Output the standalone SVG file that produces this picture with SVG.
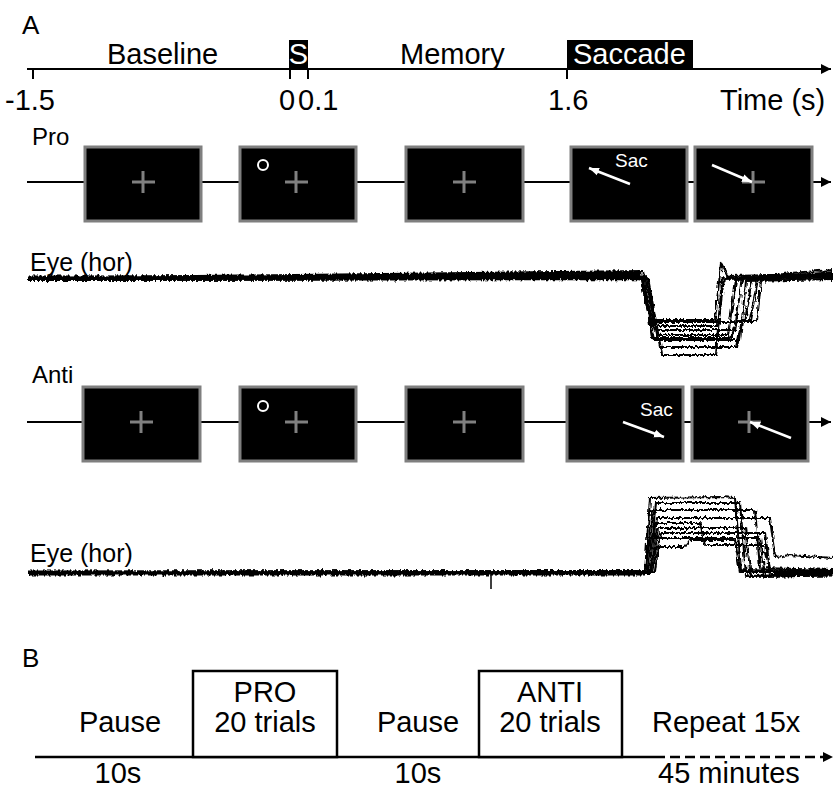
<svg xmlns="http://www.w3.org/2000/svg" width="833" height="790" viewBox="0 0 833 790">
<style>
text{font-family:"Liberation Sans",Arial,sans-serif;fill:#000}
.big{font-size:29px}
.mid{font-size:24px}
.lbl{font-size:26px}
.sac{font-size:19px;fill:#fff}
.wt{fill:#fff}
.ax{stroke:#000;stroke-width:2;fill:none}
.scr{fill:#000;stroke:#7f7f7f;stroke-width:3}
.fix{stroke:#808080;stroke-width:3;fill:none}
.tr{fill:none;stroke:#000;stroke-width:2.1;stroke-linejoin:round}
.base{fill:none;stroke:#000;stroke-width:5}
.box{fill:#fff;stroke:#000;stroke-width:2.5}
</style>
<defs>
<marker id="ah" viewBox="0 0 10 10" refX="10" refY="5" markerWidth="10" markerHeight="10" markerUnits="userSpaceOnUse" orient="auto">
<path d="M0,0 L10,5 L0,10 z" fill="#000"/>
</marker>
<marker id="wh" viewBox="0 0 10 10" refX="10" refY="5" markerWidth="10" markerHeight="10" markerUnits="userSpaceOnUse" orient="auto">
<path d="M0,1 L10,5 L0,9 z" fill="#fff"/>
</marker>
<filter id="noise" filterUnits="userSpaceOnUse" x="0" y="230" width="833" height="380">
<feTurbulence type="fractalNoise" baseFrequency="0.45 0.15" numOctaves="2" seed="7" result="t"/>
<feDisplacementMap in="SourceGraphic" in2="t" scale="5" xChannelSelector="R" yChannelSelector="G"/>
</filter>
</defs>

<g id="panelA-label"><text class="lbl" x="22" y="34">A</text></g>

<g id="timeline">
<line class="ax" x1="27" y1="69" x2="831" y2="69" marker-end="url(#ah)"/>
<line class="ax" x1="33" y1="69" x2="33" y2="79"/>
<line class="ax" x1="290" y1="69" x2="290" y2="79"/>
<line class="ax" x1="308" y1="69" x2="308" y2="79"/>
<line class="ax" x1="567" y1="69" x2="567" y2="79"/>
<text class="big" x="107" y="64">Baseline</text>
<rect x="289" y="40" width="19" height="29" fill="#000"/>
<text class="big wt" x="298.5" y="64" text-anchor="middle">S</text>
<text class="big" x="400" y="64">Memory</text>
<rect x="567" y="40" width="126" height="29" fill="#000"/>
<text class="big wt" x="573" y="64">Saccade</text>
<text class="big" x="5" y="110">-1.5</text>
<text class="big" x="279" y="110">0</text>
<text class="big" x="298" y="110">0.1</text>
<text class="big" x="548" y="110">1.6</text>
<text class="big" x="720" y="110">Time (s)</text>
</g>

<g id="connectors">
<line class="ax" x1="27" y1="182" x2="831" y2="182" marker-end="url(#ah)"/>
<line class="ax" x1="27" y1="422" x2="831" y2="422" marker-end="url(#ah)"/>
<line x1="35" y1="757" x2="655" y2="757" stroke="#000" stroke-width="2.5"/>
<line x1="655" y1="757" x2="823" y2="757" stroke="#000" stroke-width="2.5" stroke-dasharray="10 5"/>
<path d="M823,752 L833,757 L823,762 z" fill="#000"/>
</g>

<g id="pro-row">
<text class="mid" x="32" y="145">Pro</text>
<g id="pro-s1"><rect class="scr" x="85" y="147" width="116" height="74"/><path class="fix" d="M132,182 H155 M143,171 V193"/></g>
<g id="pro-s2"><rect class="scr" x="240" y="147" width="116" height="74"/><path class="fix" d="M285,182 H308 M296,171 V193"/><circle cx="263" cy="165" r="5" fill="none" stroke="#fff" stroke-width="2"/></g>
<g id="pro-s3"><rect class="scr" x="406" y="147" width="117" height="74"/><path class="fix" d="M453,182 H476 M464,171 V193"/></g>
<g id="pro-s4"><rect class="scr" x="571" y="147" width="116" height="74"/><text class="sac" x="615" y="167">Sac</text><line x1="630" y1="184" x2="589" y2="168" stroke="#fff" stroke-width="2.5" marker-end="url(#wh)"/></g>
<g id="pro-s5"><rect class="scr" x="695" y="147" width="117" height="74"/><path class="fix" d="M742,182 H765 M753,171 V193"/><line x1="712" y1="165" x2="752" y2="182" stroke="#fff" stroke-width="2.5" marker-end="url(#wh)"/></g>
</g>

<g id="pro-eye">
<text class="lbl" x="30" y="271" style="font-size:25px">Eye (hor)</text>
<g filter="url(#noise)">
<path class="base" d="M28,278 L300,278 L540,276 L640,275"/>
<path class="base" d="M760,277 L833,275"/>
<g class="tr">
<path d="M28,279 L300,278 L540,276 L640,275 L650,320 L715,320 L721,263 L728,276 L833,274"/>
<path d="M28,278 L640,277 L652,326 L718,326 L724,278 L833,276"/>
<path d="M28,280 L642,279 L655,330 L735,330 L742,277 L833,278"/>
<path d="M28,277 L645,276 L657,335 L728,335 L736,280 L833,275"/>
<path d="M28,279 L560,273 L640,272 L654,340 L740,340 L746,281 L833,279"/>
<path d="M28,278 L646,277 L660,347 L737,347 L742,320 L750,320 L758,279 L833,272"/>
<path d="M28,280 L648,278 L662,355 L716,355 L722,279 L833,277"/>
<path d="M28,278 L560,272 L643,271 L650,322 L745,322 L752,279 L790,273 L833,270"/>
<path d="M28,279 L643,278 L652,338 L731,338 L737,321 L757,321 L761,280 L833,276"/>
</g>
</g>
</g>

<g id="anti-row">
<text class="mid" x="32" y="383">Anti</text>
<g id="anti-s1"><rect class="scr" x="83" y="387" width="117" height="74"/><path class="fix" d="M130,422 H153 M141,411 V433"/></g>
<g id="anti-s2"><rect class="scr" x="240" y="387" width="116" height="74"/><path class="fix" d="M285,422 H308 M296,411 V433"/><circle cx="263" cy="406" r="5" fill="none" stroke="#fff" stroke-width="2"/></g>
<g id="anti-s3"><rect class="scr" x="406" y="387" width="117" height="74"/><path class="fix" d="M453,422 H476 M464,411 V433"/></g>
<g id="anti-s4"><rect class="scr" x="567" y="387" width="116" height="74"/><text class="sac" x="640" y="416">Sac</text><line x1="623" y1="422" x2="664" y2="437" stroke="#fff" stroke-width="2.5" marker-end="url(#wh)"/></g>
<g id="anti-s5"><rect class="scr" x="692" y="387" width="116" height="74"/><path class="fix" d="M738,422 H761 M749,411 V433"/><line x1="791" y1="438" x2="750" y2="422" stroke="#fff" stroke-width="2.5" marker-end="url(#wh)"/></g>
</g>

<g id="anti-eye">
<text class="lbl" x="30" y="562" style="font-size:25px">Eye (hor)</text>
<line x1="491" y1="572" x2="491" y2="589" stroke="#000" stroke-width="1.5"/>
<g filter="url(#noise)">
<path class="base" d="M28,573 L645,573"/>
<path class="base" d="M775,574 L833,574"/>
<g class="tr">
<path d="M28,574 L645,573 L650,498 L720,497 L735,498 L741,570 L833,572"/>
<path d="M28,572 L648,571 L656,503 L740,503 L746,576 L833,574"/>
<path d="M28,573 L645,572 L653,510 L755,510 L760,568 L833,570"/>
<path d="M28,574 L650,573 L657,518 L770,518 L775,557 L790,555 L833,558"/>
<path d="M28,573 L647,572 L655,523 L700,523 L705,545 L765,545 L770,575 L833,573"/>
<path d="M28,572 L652,571 L658,528 L745,528 L751,577 L833,575"/>
<path d="M28,573 L655,572 L660,533 L765,533 L770,570 L833,571"/>
<path d="M28,574 L645,573 L650,538 L760,538 L765,577 L833,575"/>
<path d="M28,573 L652,572 L656,547 L685,547 L690,540 L735,540 L740,572 L833,572"/>
</g>
</g>
</g>

<g id="panelB">
<text class="lbl" x="22" y="667">B</text>
<g id="b-pause1"><text class="big" x="120" y="732" text-anchor="middle">Pause</text><text class="big" x="118" y="783" text-anchor="middle">10s</text></g>
<g id="b-pro"><rect class="box" x="193" y="671" width="144" height="86"/><text class="big" x="265" y="702" text-anchor="middle">PRO</text><text class="big" x="265" y="732" text-anchor="middle">20 trials</text></g>
<g id="b-pause2"><text class="big" x="418" y="732" text-anchor="middle">Pause</text><text class="big" x="418" y="783" text-anchor="middle">10s</text></g>
<g id="b-anti"><rect class="box" x="479" y="671" width="143" height="86"/><text class="big" x="550" y="702" text-anchor="middle">ANTI</text><text class="big" x="550" y="732" text-anchor="middle">20 trials</text></g>
<g id="b-repeat"><text class="big" x="652" y="732">Repeat 15x</text><text class="big" x="658" y="783">45 minutes</text></g>
</g>
</svg>
